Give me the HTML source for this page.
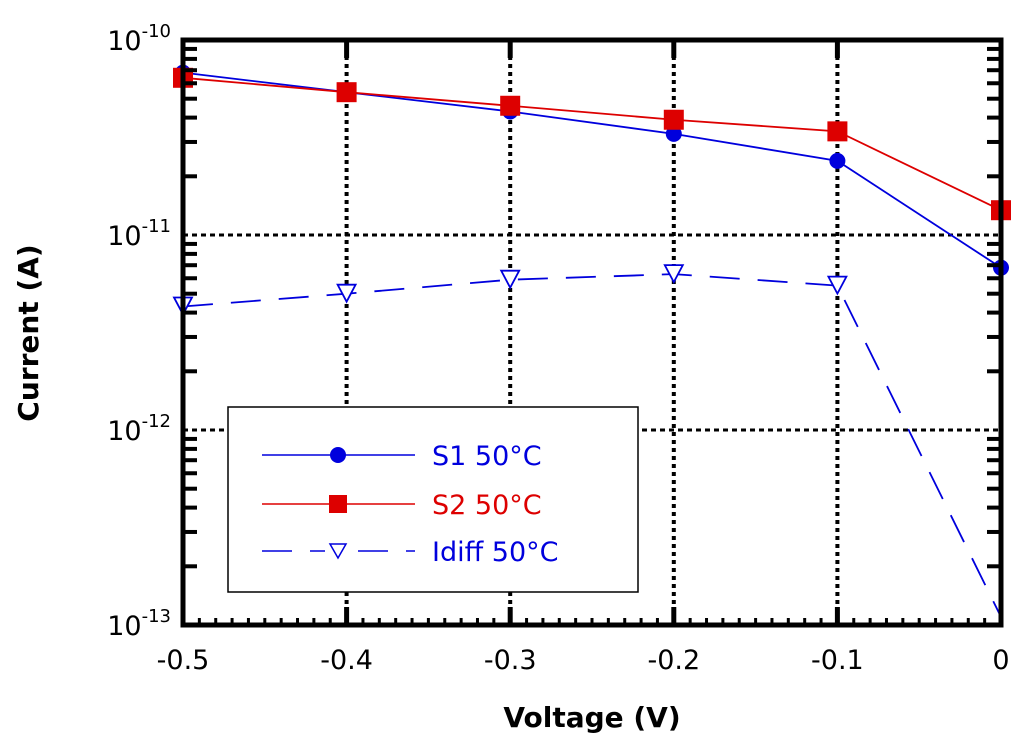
<!DOCTYPE html>
<html><head><meta charset="utf-8"><style>
body{margin:0;background:#fff;}
svg{display:block;font-family:"DejaVu Sans","Liberation Sans",sans-serif;}
</style></head><body>
<svg id="chart" width="1024" height="748" viewBox="0 0 1024 748" xmlns="http://www.w3.org/2000/svg">
<g id="grid"></g>
<g id="series"></g>
<g id="axes"></g>
<text transform="translate(38,333) rotate(-90)" text-anchor="middle" font-size="28" font-weight="bold">Current (A)</text>
<text x="592" y="727" text-anchor="middle" font-size="28" font-weight="bold">Voltage (V)</text>
<g>
<rect x="228" y="407" width="410" height="185" fill="#fff" stroke="#000" stroke-width="1.5"/>
<g><line x1="262" y1="455" x2="415" y2="455" stroke="#0000dd" stroke-width="1.5"/><circle cx="338" cy="455" r="8" fill="#0000dd"/><text x="432" y="465" font-size="27" fill="#0000dd">S1 50°C</text></g>
<g><line x1="262" y1="504" x2="415" y2="504" stroke="#dd0000" stroke-width="1.5"/><rect x="329" y="495" width="18" height="18" fill="#dd0000"/><text x="432" y="514" font-size="27" fill="#dd0000">S2 50°C</text></g>
<g><line x1="262" y1="551" x2="415" y2="551" stroke="#0000dd" stroke-width="1.5" stroke-dasharray="30,18"/><rect x="325" y="540" width="28" height="22" fill="#fff"/><polygon points="330,544 346,544 338,558" fill="#fff" stroke="#0000dd" stroke-width="1.5"/><text x="432" y="561" font-size="27" fill="#0000dd">Idiff 50°C</text></g>
</g>
</svg>
<script>
const voltages=[-0.5,-0.4,-0.3,-0.2,-0.1,0];
const s1=[6.8e-11,5.4e-11,4.3e-11,3.3e-11,2.4e-11,6.8e-12];
const s2=[6.4e-11,5.4e-11,4.6e-11,3.9e-11,3.4e-11,1.34e-11];
const idiff=[4.3e-12,5.0e-12,5.9e-12,6.3e-12,5.5e-12,1.1e-13];
const xTicks=[-0.5,-0.4,-0.3,-0.2,-0.1,0];
const xTickLabels=["-0.5","-0.4","-0.3","-0.2","-0.1","0"];
const yDecades=[-10,-11,-12,-13];
const L=183,R=1001,T=40,B=625;
const NS="http://www.w3.org/2000/svg";
function X(v){return L+(v+0.5)/0.5*(R-L);}
function Y(v){return T+(-10-Math.log10(v))/3*(B-T);}
function mk(t,a,p){const e=document.createElementNS(NS,t);for(const k in a)e.setAttribute(k,a[k]);p.appendChild(e);return e;}
const grid=document.getElementById('grid'),ser=document.getElementById('series'),ax=document.getElementById('axes');
xTicks.slice(1,5).forEach(v=>{const l=mk('line',{x1:X(v),x2:X(v),y1:T,y2:B,stroke:'#000','stroke-width':4,'stroke-dasharray':'4,4'},grid);

});
[-11,-12].forEach(d=>{const l=mk('line',{x1:L,x2:R,y1:Y(Math.pow(10,d)),y2:Y(Math.pow(10,d)),stroke:'#000','stroke-width':3,'stroke-dasharray':'5,4'},grid);

});
const fr=mk('rect',{x:L,y:T,width:R-L,height:B-T,fill:'none',stroke:'#000','stroke-width':5},ax);


for(let d=-13;d<-10;d++){for(let m=2;m<10;m++){const y=Y(m*Math.pow(10,d));const len=14;
mk('line',{x1:L,x2:L+len,y1:y,y2:y,stroke:'#000','stroke-width':4},ax);mk('line',{x1:R,x2:R-len,y1:y,y2:y,stroke:'#000','stroke-width':4},ax);}}
yDecades.forEach(d=>{const t=mk('text',{x:L-12,y:Y(Math.pow(10,d))+10,'text-anchor':'end','font-size':27},ax);


t.textContent='10';const s=mk('tspan',{dy:-13,'font-size':18},t);s.textContent=String(d);});
for(let i=0;i<=50;i++){const x=X(-0.5+i*0.01);mk('line',{x1:x,x2:x,y1:B,y2:B-7,stroke:'#000','stroke-width':3},ax);}
xTicks.forEach((v,i)=>{mk('line',{x1:X(v),x2:X(v),y1:B,y2:B-18,stroke:'#000','stroke-width':5},ax);mk('line',{x1:X(v),x2:X(v),y1:T,y2:T+18,stroke:'#000','stroke-width':5},ax);
const t=mk('text',{x:X(v),y:B+44,'text-anchor':'middle','font-size':27},ax);


t.textContent=xTickLabels[i];});
function line(vals,col,dash,name){const p=mk('polyline',{points:vals.map((v,i)=>X(voltages[i])+','+Y(v)).join(' '),fill:'none',stroke:col,'stroke-width':1.8,'stroke-dasharray':dash||'none'},ser);

}
line(s1,'#0000dd',null,'s1-line');line(s2,'#dd0000',null,'s2-line');line(idiff,'#0000dd','30,18','idiff-line');
s1.forEach((v,i)=>{const c=mk('circle',{cx:X(voltages[i]),cy:Y(v),r:8,fill:'#0000dd'},ser);

});
s2.forEach((v,i)=>{const c=mk('rect',{x:X(voltages[i])-10,y:Y(v)-10,width:20,height:20,fill:'#dd0000'},ser);

});
idiff.forEach((v,i)=>{if(Y(v)>B-10)return;const x=X(voltages[i]),y=Y(v);const c=mk('polygon',{points:(x-9)+','+(y-9)+' '+(x+9)+','+(y-9)+' '+x+','+(y+8),fill:'#fff',stroke:'#0000dd','stroke-width':1.8},ser);

});
</script>
</body></html>
